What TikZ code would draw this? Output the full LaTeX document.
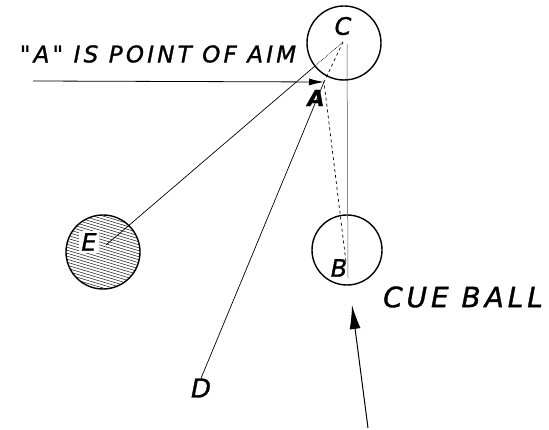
\documentclass[tikz,border=0pt]{standalone}
\usepackage{fontspec}
\newfontfamily\hand[LetterSpace=14,FakeBold=1.2]{DejaVu Sans}
\usetikzlibrary{arrows.meta,calc}

\begin{document}
\begin{tikzpicture}[x=1pt,y=-1pt,
    ball/.style={line width=1.4pt},
    lbl/.style={font=\hand\itshape\fontsize{24}{24}\selectfont, inner sep=0pt},
    path/.style={line width=0.7pt},
    aim/.style={-{Latex[length=15pt,width=7pt]}, line width=0.8pt}]
        \useasboundingbox (0,0) rectangle (549,430);
        % Centres of the balls
        \coordinate (c) at (344,43);
        \coordinate (b) at (347,250);
        \coordinate (e) at (103,252);
        % Object ball E, hatched
        \begin{scope}
          \clip (e) circle (37pt);
          \foreach \k in {-66,-63,...,42}
            \draw[black!85, line width=0.55pt] ($(e)+(-40,\k)$) -- ++(80,24);
        \end{scope}
        \draw[ball] (e) circle (37pt);
        \node[lbl, fill=white, inner sep=2pt] (elbl) at (89,242) {E};
        \draw[ball] (c) circle (37pt);
        \draw[ball] (b) circle (35pt);
        % Labels
        \node[lbl] (clbl) at (343,26) {C};
        \node[lbl, font=\hand\bfseries\itshape\fontsize{22}{22}\selectfont] (albl) at (316,98) {A};
        \node[lbl] (blbl) at (339,268) {B};
        \node[lbl, font=\hand\itshape\fontsize{26}{26}\selectfont] (dlbl) at (201,388) {D};
        \node[lbl, font=\hand\itshape\fontsize{28}{28}\selectfont] (cue) at (463,297) {CUE BALL};
        \node[lbl, font=\hand\itshape\fontsize{23}{23}\selectfont] (note) at (158,54) {"A" IS POINT OF AIM};
        % Points on the lines
        \coordinate (cc) at (343,42);
        \coordinate (a) at (324,82);
        \coordinate (aimstart) at (33,81);
        \coordinate (eend) at (106,245);
        \coordinate (bend) at (346,262);
        \coordinate (vtop) at (347,44);
        \coordinate (vbot) at (348,278);
        \coordinate (cuetail) at (368,428);
        \coordinate (cuetip) at (352,305);
        % Line of aim
        \draw[aim] (aimstart) -- (a);
        % E to C
        \draw[path] (eend) -- ($(eend)!0.88!(cc)$);
        \draw[path, densely dotted] ($(eend)!0.88!(cc)$) -- (cc);
        % D to A
        \draw[path] (dlbl.north) -- (a);
        % C to A to B
        \draw[path, dashed] (cc) -- (a) -- (bend);
        \draw[black!70, line width=0.5pt] (vtop) -- (vbot);
        % Cue
        \draw[-{Latex[length=24pt,width=11pt]}, line width=1pt] (cuetail) -- (cuetip);
      \end{tikzpicture}
\end{document}
